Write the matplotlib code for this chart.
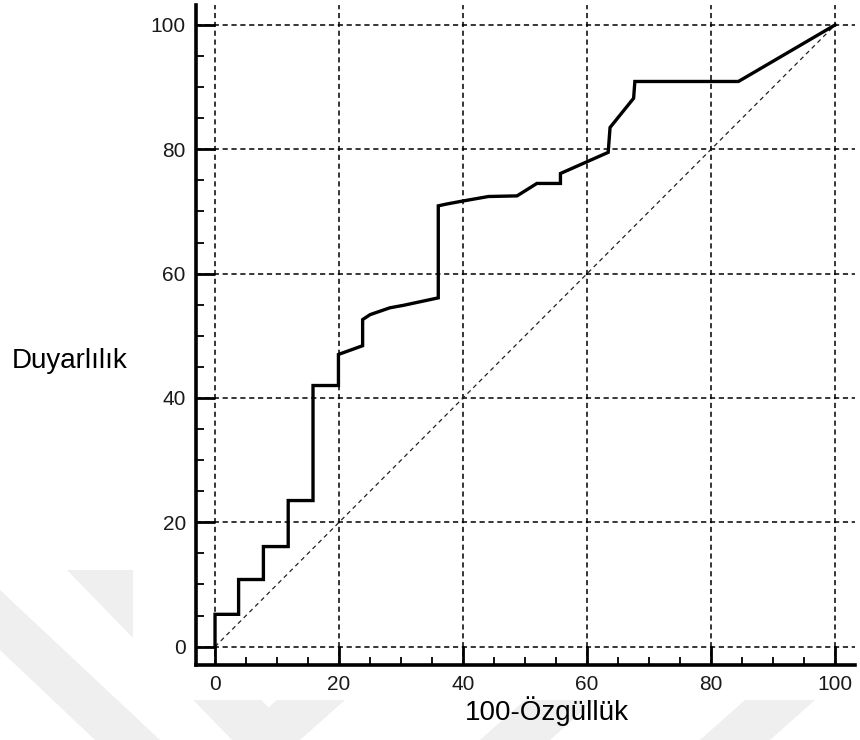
import matplotlib
matplotlib.use("Agg")
import matplotlib.pyplot as plt
from matplotlib.patches import Polygon, Rectangle
from matplotlib.ticker import MultipleLocator

plt.rcParams["font.family"] = ["Liberation Sans", "DejaVu Sans"]

# ROC curve: 100-specificity (x) vs sensitivity (y), in percent
fpr = [0, 0, 3.8, 3.8, 7.8, 7.8, 11.8, 11.8, 15.8, 15.8, 19.9, 19.9, 23.8,
       23.8, 25.0, 28.2, 30.4, 36.0, 36.0, 37.4, 40.1, 44.1, 48.7, 51.9,
       55.7, 55.7, 63.4, 63.7, 67.5, 67.7, 84.4, 100]
tpr = [0, 5.2, 5.2, 10.8, 10.8, 16.1, 16.1, 23.5, 23.5, 42.0, 42.0, 47.0, 48.4,
       52.6, 53.4, 54.5, 54.9, 56.1, 70.9, 71.2, 71.7, 72.4, 72.5, 74.5,
       74.5, 76.1, 79.5, 83.5, 88.2, 90.9, 90.9, 100]

# chance line
ref_x = [0, 100]
ref_y = [0, 100]

tick_values = [0, 20, 40, 60, 80, 100]
x_label = "100-Özgüllük"
y_label = "Duyarlılık"

W, H = 860, 740
fig = plt.figure(figsize=(W / 100, H / 100), dpi=100)


def px(x, y):
    return (x / W, 1 - y / H)


# faint chevron watermark behind the chart
wm_color = "#efefef"
bands = [
    [(0, 590), (160, 740), (95, 740), (0, 650)],
    [(67, 570), (135, 570), (300, 740), (232, 740)],
    [(232, 740), (300, 740), (345, 700), (277, 700)],
    [(480, 740), (550, 740), (595, 700), (525, 700)],
    [(700, 740), (770, 740), (815, 700), (745, 700)],
]
for b in bands:
    fig.patches.append(Polygon([px(*p) for p in b], closed=True,
                               transform=fig.transFigure, facecolor=wm_color,
                               edgecolor="none", zorder=-2))
x0, y0 = px(133, 700)
fig.patches.append(Rectangle((x0, y0), 1 - x0, 1 - y0, transform=fig.transFigure,
                             facecolor="white", edgecolor="none", zorder=-1))

ax = fig.add_axes([195.5 / W, 75 / H, 659.5 / W, 660 / H])
ax.set_facecolor("none")
ax.set_xlim(-3.15, 103.2)
ax.set_ylim(-2.95, 103.2)

for side in ("top", "right"):
    ax.spines[side].set_visible(False)
for side in ("left", "bottom"):
    ax.spines[side].set_linewidth(2.6)
    ax.spines[side].set_color("black")

ax.set_xticks(tick_values)
ax.set_yticks(tick_values)
ax.xaxis.set_minor_locator(MultipleLocator(5))
ax.yaxis.set_minor_locator(MultipleLocator(5))
ax.tick_params(which="major", direction="in", length=13.5, width=2.0,
               labelsize=15, pad=7, colors="black", labelcolor="#1a1a1a")
ax.tick_params(which="minor", direction="in", length=5.5, width=1.3,
               colors="black")

ax.grid(True, which="major", color="black", linewidth=1.1,
        linestyle=(0, (3.4, 2.4)), zorder=1)
ax.set_axisbelow(True)

ax.plot(ref_x, ref_y, color="#222222", linewidth=0.9,
        linestyle=(0, (3.5, 3.0)), zorder=2)
ax.plot(fpr, tpr, color="black", linewidth=2.4, solid_joinstyle="miter",
        zorder=3)

ax.set_xlabel(x_label, fontsize=20, va="top", ha="center")
ax.xaxis.set_label_coords((547 - 195.5) / 659.5, (665 - 696) / 660)
ax.set_ylabel(y_label, fontsize=20, rotation=0, ha="left", va="center")
ax.yaxis.set_label_coords((12 - 195.5) / 659.5, (665 - 361) / 660)

fig.savefig("out.png", dpi=100)
